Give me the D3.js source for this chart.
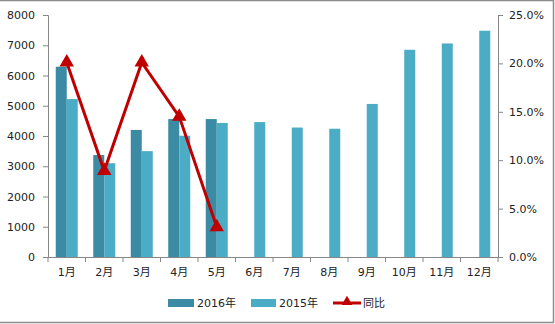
<!DOCTYPE html>
<html>
<head>
<meta charset="utf-8">
<style>
  body { margin: 0; background: #fff; }
  svg text { font-family: "DejaVu Sans", "Noto Sans CJK SC", sans-serif; font-size: 11px; fill: #222; }
</style>
<script src="https://d3js.org/d3.v7.min.js"></script>
</head>
<body>
<script>
const months = ["1月","2月","3月","4月","5月","6月","7月","8月","9月","10月","11月","12月"];
const sales2016 = [6290, 3370, 4200, 4560, 4560];
const sales2015 = [5220, 3100, 3500, 4010, 4430, 4460, 4280, 4240, 5060, 6850, 7060, 7480];
const yoy = [0.201, 0.089, 0.201, 0.145, 0.031];
const leftTicks = [0,1000,2000,3000,4000,5000,6000,7000,8000];
const rightTicks = [0,0.05,0.10,0.15,0.20,0.25];

const w = 555, h = 324;
const svg = d3.select("body").append("svg").attr("width", w).attr("height", h);

// outer frame (top, right, bottom)
svg.append("path").attr("d", `M0,0.5H553.5V322.5H0`).attr("fill","none").attr("stroke","#8c8c8c").attr("stroke-width",1.5);

const x = d3.scaleBand().domain(months).range([48, 498]);
const y = d3.scaleLinear().domain([0, 8000]).range([257, 15]);
const y2 = d3.scaleLinear().domain([0, 0.25]).range([257, 15]);
const barW = 11;

const xAxis = svg.append("g").attr("transform", "translate(0,257)")
  .call(d3.axisBottom(x).tickSize(0).tickPadding(11));
xAxis.select(".domain").attr("stroke", "#868686");
// ticks between categories
xAxis.selectAll(".sep").data(d3.range(13)).enter().append("line")
  .attr("x1", i => 48 + i * x.step()).attr("x2", i => 48 + i * x.step())
  .attr("y1", 0).attr("y2", 5).attr("stroke", "#868686");

const yAxis = svg.append("g").attr("transform", "translate(48,0)")
  .call(d3.axisLeft(y).tickValues(leftTicks).tickSize(5).tickPadding(8).tickFormat(d3.format("d")));
yAxis.selectAll("line, .domain").attr("stroke", "#868686");

const yAxis2 = svg.append("g").attr("transform", "translate(498,0)")
  .call(d3.axisRight(y2).tickValues(rightTicks).tickSize(5).tickPadding(6).tickFormat(d3.format(".1%")));
yAxis2.selectAll("line, .domain").attr("stroke", "#868686");
svg.selectAll(".tick text").attr("fill", "#222").style("font-size", "11px");

const cx = d => x(d) + x.bandwidth() / 2;

svg.selectAll(".b16").data(sales2016).enter().append("rect")
  .attr("x", (d, i) => cx(months[i]) - barW)
  .attr("y", d => y(d)).attr("width", barW).attr("height", d => 257 - y(d))
  .attr("fill", "#3a8ba3");

svg.selectAll(".b15").data(sales2015).enter().append("rect")
  .attr("x", (d, i) => cx(months[i]))
  .attr("y", d => y(d)).attr("width", barW).attr("height", d => 257 - y(d))
  .attr("fill", "#4bacc6");

const line = d3.line().x((d, i) => cx(months[i])).y(d => y2(d));
svg.append("path").datum(yoy).attr("d", line).attr("fill", "none")
  .attr("stroke", "#c00000").attr("stroke-width", 3);
const tri = d3.symbol().type(d3.symbolTriangle).size(90);
svg.selectAll(".m").data(yoy).enter().append("path")
  .attr("d", tri).attr("transform", (d, i) => `translate(${cx(months[i])},${y2(d)})`)
  .attr("fill", "#c00000");

// legend
const lg = svg.append("g");
lg.append("rect").attr("x", 168).attr("y", 299).attr("width", 26).attr("height", 8).attr("fill", "#3a8ba3");
lg.append("text").attr("x", 197).attr("y", 307).text("2016年");
lg.append("rect").attr("x", 251).attr("y", 299).attr("width", 25).attr("height", 8).attr("fill", "#4bacc6");
lg.append("text").attr("x", 279).attr("y", 307).text("2015年");
lg.append("line").attr("x1", 333).attr("x2", 361).attr("y1", 303).attr("y2", 303).attr("stroke", "#c00000").attr("stroke-width", 3);
lg.append("path").attr("d", d3.symbol().type(d3.symbolTriangle).size(50)).attr("transform", "translate(347,302)").attr("fill", "#c00000");
lg.append("text").attr("x", 363).attr("y", 307).text("同比");
</script>
</body>
</html>
